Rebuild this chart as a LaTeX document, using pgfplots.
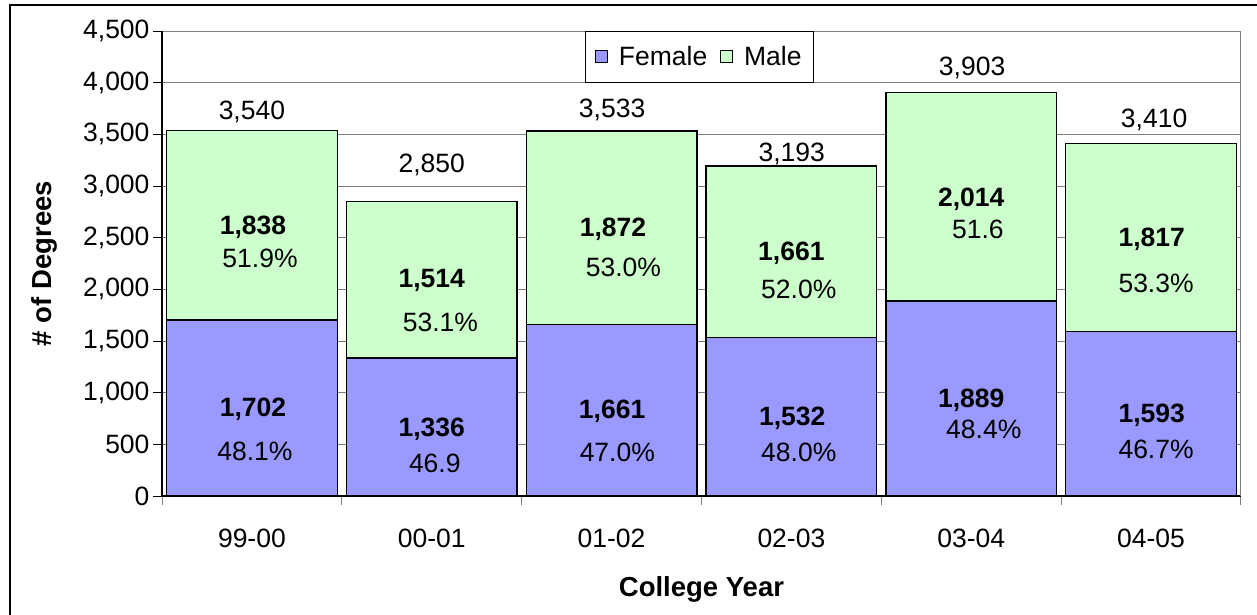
\documentclass[border=0pt]{standalone}
\usepackage{pgfplots}
\pgfplotsset{compat=1.18}
\usepackage{fontspec}
\setmainfont{Liberation Sans}
\definecolor{fem}{HTML}{9999FF}
\definecolor{mal}{HTML}{CCFFCC}
\definecolor{gridc}{HTML}{808080}
\newcommand{\lf}{\fontsize{26.5}{31}\selectfont}
\tikzset{
  lbl/.style={font=\lf, inner sep=0pt, text height=19pt, text depth=0pt, anchor=center},
  lblb/.style={font=\lf\bfseries, inner sep=0pt, text height=19pt, text depth=0pt, anchor=center},
}
\begin{document}
\begin{tikzpicture}
\useasboundingbox (0,0) rectangle (1257pt,614pt);
\clip (0,0) rectangle (1257pt,614pt);
\draw[line width=2.4pt, black] (10pt,-20pt) rectangle (1280pt,609pt);
\begin{axis}[
  at={(162pt,118pt)}, anchor=south west,
  scale only axis, width=1079pt, height=465pt,
  ybar stacked, bar width=0.949,
  xmin=-0.5, xmax=5.5, ymin=0, ymax=4500,
  xtick={-0.5,0.5,1.5,2.5,3.5,4.5,5.5},
  x tick label as interval,
  xticklabels={99-00,00-01,01-02,02-03,03-04,04-05},
  ytick={0,500,...,4500},
  scaled y ticks=false,
  axis lines=left,
  axis line style={-, black, line width=1.4pt},
  tick align=outside,
  major tick length=9pt,
  tick style={black, line width=1pt},
  x tick style={gridc},
  ymajorgrids, grid style={gridc, line width=1pt},
  xticklabel style={font=\lf, yshift=-20pt},
  yticklabel style={font=\lf, /pgf/number format/.cd, 1000 sep={,}, assume math mode=true},
  xlabel={College Year},
  ylabel={\# of Degrees},
  xlabel style={at={(axis description cs:0.5,-0.202)}, anchor=center, font=\fontsize{27.5}{32}\selectfont\bfseries},
  ylabel style={at={(axis description cs:-0.1094,0.5)}, anchor=center, font=\fontsize{27.5}{32}\selectfont\bfseries},
  legend style={at={(0.498,1)}, anchor=north, draw=black, line width=0.8pt, fill=white, font=\lf,
     inner xsep=10pt, inner ysep=13pt,
     /tikz/every odd column/.append style={column sep=9pt},
     /tikz/every even column/.append style={column sep=11pt}},
  legend columns=2,
]
\addplot[fill=fem, draw=black, line width=1.4pt,
  legend image code/.code={\draw[fill=fem, draw=black, line width=0.8pt] (0pt,-6pt) rectangle (12pt,6pt);}]
  coordinates {(0,1702) (1,1336) (2,1661) (3,1532) (4,1889) (5,1593)};
\addplot[fill=mal, draw=black, line width=1.4pt,
  legend image code/.code={\draw[fill=mal, draw=black, line width=0.8pt] (0pt,-6pt) rectangle (12pt,6pt);}]
  coordinates {(0,1838) (1,1514) (2,1872) (3,1661) (4,2014) (5,1817)};
\legend{Female, Male}
\draw[gridc, line width=1pt] (rel axis cs:1,0) -- (rel axis cs:1,1);
% totals
\coordinate (t0) at (axis cs:0.000,3735);
\coordinate (t1) at (axis cs:1.000,3225);
\coordinate (t2) at (axis cs:2.003,3755);
\coordinate (t3) at (axis cs:3.002,3332);
\coordinate (t4) at (axis cs:4.005,4161);
\coordinate (t5) at (axis cs:5.017,3655);
% male
\coordinate (mb0) at (axis cs:0.006,2622);
\coordinate (mp0) at (axis cs:0.045,2303);
\coordinate (mb1) at (axis cs:1.000,2110);
\coordinate (mp1) at (axis cs:1.048,1687);
\coordinate (mb2) at (axis cs:2.008,2606);
\coordinate (mp2) at (axis cs:2.066,2213);
\coordinate (mb3) at (axis cs:3.000,2374);
\coordinate (mp3) at (axis cs:3.041,2000);
\coordinate (mb4) at (axis cs:4.000,2896);
\coordinate (mp4) at (axis cs:4.037,2581);
\coordinate (mb5) at (axis cs:5.004,2503);
\coordinate (mp5) at (axis cs:5.028,2064);
% female
\coordinate (fb0) at (axis cs:0.006,861);
\coordinate (fp0) at (axis cs:0.017,435);
\coordinate (fb1) at (axis cs:1.000,671);
\coordinate (fp1) at (axis cs:1.017,322);
\coordinate (fb2) at (axis cs:2.003,839);
\coordinate (fp2) at (axis cs:2.032,429);
\coordinate (fb3) at (axis cs:3.005,774);
\coordinate (fp3) at (axis cs:3.041,429);
\coordinate (fb4) at (axis cs:4.000,945);
\coordinate (fp4) at (axis cs:4.070,645);
\coordinate (fb5) at (axis cs:5.004,800);
\coordinate (fp5) at (axis cs:5.028,452);
\end{axis}
\node[lbl] at (t0) {3,540};
\node[lbl] at (t1) {2,850};
\node[lbl] at (t2) {3,533};
\node[lbl] at (t3) {3,193};
\node[lbl] at (t4) {3,903};
\node[lbl] at (t5) {3,410};
\node[lblb] at (mb0) {1,838};
\node[lbl]  at (mp0) {51.9\%};
\node[lblb] at (mb1) {1,514};
\node[lbl]  at (mp1) {53.1\%};
\node[lblb] at (mb2) {1,872};
\node[lbl]  at (mp2) {53.0\%};
\node[lblb] at (mb3) {1,661};
\node[lbl]  at (mp3) {52.0\%};
\node[lblb] at (mb4) {2,014};
\node[lbl]  at (mp4) {51.6};
\node[lblb] at (mb5) {1,817};
\node[lbl]  at (mp5) {53.3\%};
\node[lblb] at (fb0) {1,702};
\node[lbl]  at (fp0) {48.1\%};
\node[lblb] at (fb1) {1,336};
\node[lbl]  at (fp1) {46.9};
\node[lblb] at (fb2) {1,661};
\node[lbl]  at (fp2) {47.0\%};
\node[lblb] at (fb3) {1,532};
\node[lbl]  at (fp3) {48.0\%};
\node[lblb] at (fb4) {1,889};
\node[lbl]  at (fp4) {48.4\%};
\node[lblb] at (fb5) {1,593};
\node[lbl]  at (fp5) {46.7\%};
\end{tikzpicture}
\end{document}
